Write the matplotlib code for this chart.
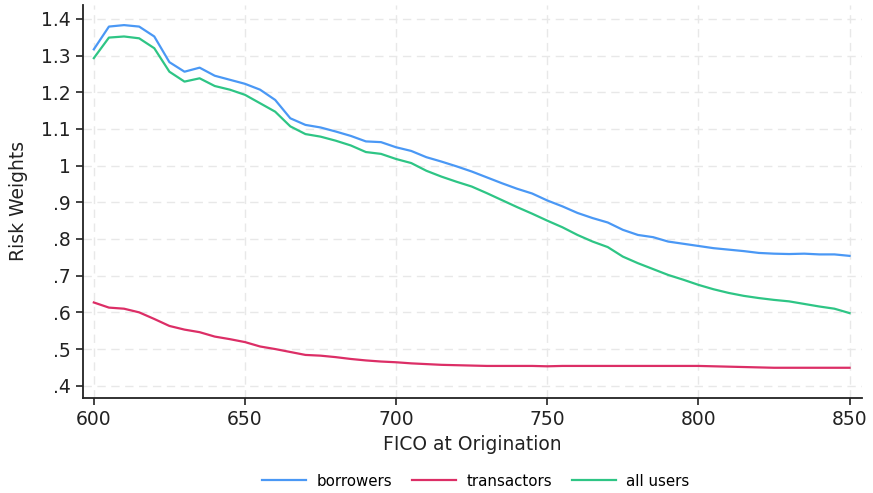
import numpy as np
import matplotlib
matplotlib.use("Agg")
import matplotlib.pyplot as plt

# FICO score at origination, steps of 5
fico = np.arange(600, 851, 5)

borrowers = [1.317, 1.379, 1.383, 1.379, 1.352, 1.282, 1.256, 1.267, 1.245, 1.234,
             1.223, 1.207, 1.179, 1.129, 1.111, 1.104, 1.093, 1.081, 1.066, 1.064,
             1.050, 1.040, 1.023, 1.011, 0.998, 0.984, 0.968, 0.952, 0.937, 0.924,
             0.905, 0.889, 0.871, 0.857, 0.845, 0.825, 0.811, 0.805, 0.793, 0.787,
             0.781, 0.775, 0.771, 0.767, 0.762, 0.760, 0.759, 0.760, 0.758, 0.758,
             0.754]

transactors = [0.627, 0.613, 0.610, 0.600, 0.582, 0.563, 0.553, 0.546, 0.534, 0.527,
               0.519, 0.507, 0.500, 0.492, 0.484, 0.482, 0.478, 0.473, 0.469, 0.466,
               0.464, 0.461, 0.459, 0.457, 0.456, 0.455, 0.454, 0.454, 0.454, 0.454,
               0.453, 0.454, 0.454, 0.454, 0.454, 0.454, 0.454, 0.454, 0.454, 0.454,
               0.454, 0.453, 0.452, 0.451, 0.450, 0.449, 0.449, 0.449, 0.449, 0.449,
               0.449]

all_users = [1.293, 1.349, 1.352, 1.347, 1.320, 1.256, 1.229, 1.238, 1.217, 1.207,
             1.193, 1.170, 1.147, 1.107, 1.086, 1.079, 1.068, 1.055, 1.037, 1.032,
             1.018, 1.007, 0.986, 0.970, 0.956, 0.943, 0.925, 0.906, 0.887, 0.869,
             0.850, 0.832, 0.811, 0.793, 0.778, 0.752, 0.734, 0.718, 0.702, 0.689,
             0.675, 0.663, 0.653, 0.645, 0.639, 0.634, 0.630, 0.623, 0.616, 0.610,
             0.598]

xticks = [600, 650, 700, 750, 800, 850]
yticks = [0.4, 0.5, 0.6, 0.7, 0.8, 0.9, 1.0, 1.1, 1.2, 1.3, 1.4]
ylabels = [".4", ".5", ".6", ".7", ".8", ".9", "1", "1.1", "1.2", "1.3", "1.4"]

fig = plt.figure(figsize=(8.73, 4.93), dpi=100)
ax = fig.add_axes([0.095, 0.193, 0.892, 0.797])

ax.plot(fico, borrowers, color="#4a98f5", lw=1.6, label="borrowers")
ax.plot(fico, transactors, color="#dc2e66", lw=1.6, label="transactors")
ax.plot(fico, all_users, color="#2ec585", lw=1.6, label="all users")

ax.set_xlim(596.4, 854)
ax.set_ylim(0.367, 1.438)
ax.set_xticks(xticks)
ax.set_yticks(yticks)
ax.set_yticklabels(ylabels)
ax.tick_params(labelsize=13.5, length=5, width=1.2, colors="#222222", pad=4)
ax.grid(True, color="#e8e8e8", linestyle=(0, (6, 4)), lw=1)
ax.set_axisbelow(True)
for s in ["top", "right"]:
    ax.spines[s].set_visible(False)
for s in ["left", "bottom"]:
    ax.spines[s].set_linewidth(1.3)
    ax.spines[s].set_color("#222222")

ax.set_xlabel("FICO at Origination", fontsize=13.5, color="#222222", labelpad=4)
ax.set_ylabel("Risk Weights", fontsize=13.5, color="#222222", labelpad=9)

fig.legend(loc="center", bbox_to_anchor=(0.545, 0.024), ncol=3, frameon=False,
           fontsize=10.8, handlelength=2.9, handletextpad=0.7, columnspacing=1.35)

fig.savefig("out.png", dpi=100)
